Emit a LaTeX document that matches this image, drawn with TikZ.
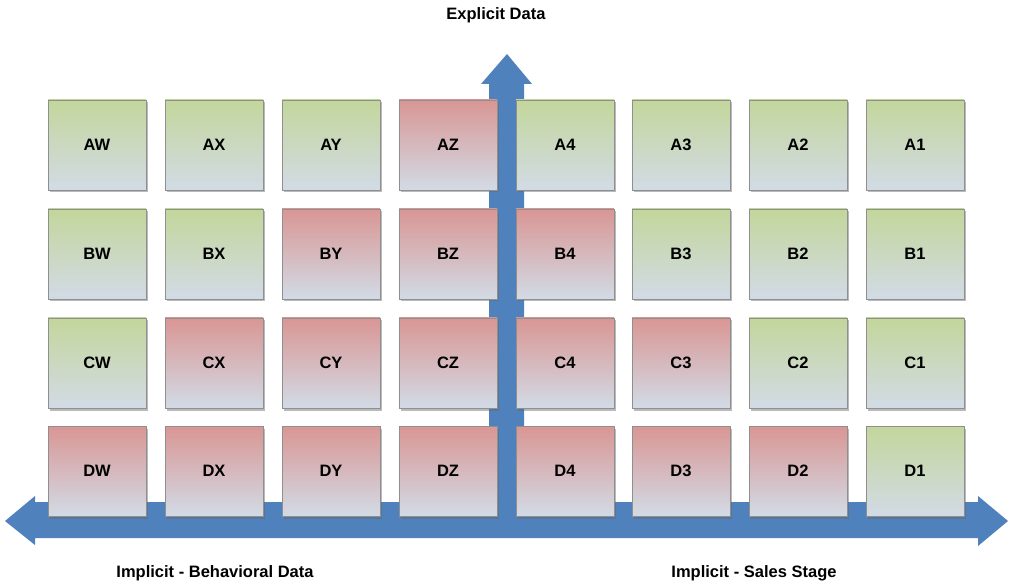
\documentclass[tikz,border=0pt]{standalone}
\usepackage{fontspec}
\setmainfont{Liberation Sans}
\usetikzlibrary{shadows}
\definecolor{arrowblue}{HTML}{4F81BD}
\definecolor{gtop}{HTML}{C3D69B}
\definecolor{rtop}{HTML}{D99694}
\definecolor{cbot}{HTML}{D2DBE6}
\definecolor{boxline}{HTML}{8F8F8F}
\tikzset{
  cell/.style={minimum width=98pt, minimum height=90pt, inner sep=0pt,
    draw=boxline, line width=0.8pt, bottom color=cbot,
    drop shadow={shadow xshift=2pt, shadow yshift=-2.5pt, fill=black!60, opacity=0.45},
    font=\fontsize{16.5}{19}\selectfont\bfseries, text=black},
  gcell/.style={cell, top color=gtop},
  rcell/.style={cell, top color=rtop},
  axislabel/.style={font=\fontsize{16.5}{19}\selectfont\bfseries, text=black},
  bluearrow/.style={fill=arrowblue, draw=none}
}
\begin{document}
\begin{tikzpicture}[x=1pt,y=-1pt]
\useasboundingbox (0,0) rectangle (1013,588);
% arrows
\draw[bluearrow] (489,537) -- (489,84) -- (481,84) -- (507,54) -- (532,84) -- (524,84) -- (524,537) -- cycle;
\draw[bluearrow] (35,502) -- (978,502) -- (978,496) -- (1008,521) -- (978,546) -- (978,538)
  -- (35,538) -- (35,545) -- (5,521) -- (35,496) -- cycle;
% row A
\node[gcell] (AW) at (97,145) {AW};
\node[gcell] (AX) at (214,145) {AX};
\node[gcell] (AY) at (331,145) {AY};
\node[rcell] (AZ) at (448,145) {AZ};
\node[gcell] (A4) at (565,145) {A4};
\node[gcell] (A3) at (681,145) {A3};
\node[gcell] (A2) at (798,145) {A2};
\node[gcell] (A1) at (915,145) {A1};
% row B
\node[gcell] (BW) at (97,254) {BW};
\node[gcell] (BX) at (214,254) {BX};
\node[rcell] (BY) at (331,254) {BY};
\node[rcell] (BZ) at (448,254) {BZ};
\node[rcell] (B4) at (565,254) {B4};
\node[gcell] (B3) at (681,254) {B3};
\node[gcell] (B2) at (798,254) {B2};
\node[gcell] (B1) at (915,254) {B1};
% row C
\node[gcell] (CW) at (97,363) {CW};
\node[rcell] (CX) at (214,363) {CX};
\node[rcell] (CY) at (331,363) {CY};
\node[rcell] (CZ) at (448,363) {CZ};
\node[rcell] (C4) at (565,363) {C4};
\node[rcell] (C3) at (681,363) {C3};
\node[gcell] (C2) at (798,363) {C2};
\node[gcell] (C1) at (915,363) {C1};
% row D
\node[rcell] (DW) at (97,471) {DW};
\node[rcell] (DX) at (214,471) {DX};
\node[rcell] (DY) at (331,471) {DY};
\node[rcell] (DZ) at (448,471) {DZ};
\node[rcell] (D4) at (565,471) {D4};
\node[rcell] (D3) at (681,471) {D3};
\node[rcell] (D2) at (798,471) {D2};
\node[gcell] (D1) at (915,471) {D1};
% labels
\node[axislabel] (explicit) at (496,15) {Explicit Data};
\node[axislabel] (behav) at (215,573) {Implicit - Behavioral Data};
\node[axislabel] (sales) at (754,573) {Implicit - Sales Stage};
\end{tikzpicture}
\end{document}
